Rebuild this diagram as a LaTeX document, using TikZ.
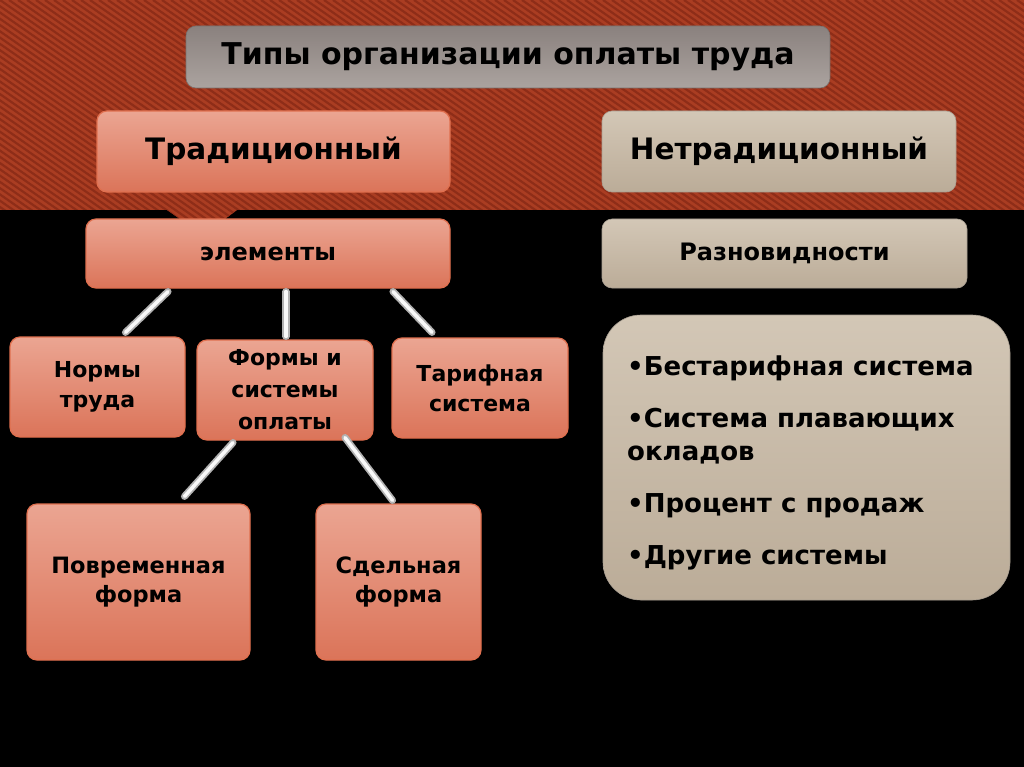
\documentclass[tikz,border=0pt]{standalone}
\usepackage{fontspec}
\setmainfont{DejaVu Sans}
\usetikzlibrary{calc}
\definecolor{band}{HTML}{AA3D22}
\definecolor{bandstripe}{HTML}{8E2D18}
\definecolor{salTop}{HTML}{EBA592}
\definecolor{salBot}{HTML}{DB7459}
\definecolor{salEdge}{HTML}{E0704F}
\definecolor{begTop}{HTML}{D3C7B6}
\definecolor{begBot}{HTML}{BBAC98}
\definecolor{grayTop}{HTML}{8A817E}
\definecolor{grayBot}{HTML}{ABA39F}
\tikzset{
  x=1pt, y=-1pt,
  box/.style={rounded corners=10pt, inner sep=0pt, align=center, font=\bfseries},
  salbox/.style={box, top color=salTop, bottom color=salBot, draw=salEdge, line width=1.2pt},
  begbox/.style={box, top color=begTop, bottom color=begBot, draw=begTop!80!black, line width=0.6pt},
  tube/.style={draw=gray!60, double=white!95!gray, double distance=3.5pt, line width=1.8pt, line cap=round},
}
\begin{document}
\begin{tikzpicture}
\useasboundingbox (0,0) rectangle (1024,767);
\fill[black] (0,0) rectangle (1024,767);
% striped band
\begin{scope}
\clip (0,0) -- (1024,0) -- (1024,210) -- (237,210) -- (225,219) -- (180,219) -- (167,210) -- (0,210) -- cycle;
\fill[band] (0,0) rectangle (1024,220);
\foreach \i in {-40,...,118} {
  \draw[bandstripe, line width=2.2pt] (\i*9,0) -- ++(330,230);
}
\end{scope}
% title
\node[box, top color=grayTop, bottom color=grayBot, draw=grayBot!70!black, line width=0.6pt,
  minimum width=644pt, minimum height=62pt, font=\bfseries\fontsize{30}{36}\selectfont]
  (title) at (508,57) {Типы организации оплаты труда};
% level 1
\node[salbox, minimum width=353pt, minimum height=81pt, font=\bfseries\fontsize{29.5}{35}\selectfont]
  (trad) at (273.5,151.5) {\raisebox{-2pt}{Традиционный}};
\node[begbox, minimum width=354pt, minimum height=81pt, font=\bfseries\fontsize{29.5}{35}\selectfont]
  (netrad) at (779,151.5) {\raisebox{-2pt}{Нетрадиционный}};
% level 2
\node[salbox, minimum width=364pt, minimum height=69pt, font=\bfseries\fontsize{24}{28}\selectfont]
  (elem) at (268,253.5) {элементы};
\node[begbox, minimum width=365pt, minimum height=69pt, font=\bfseries\fontsize{24}{28}\selectfont]
  (razn) at (784.5,253.5) {Разновидности};
% level 3
\node[salbox, minimum width=175pt, minimum height=100pt, font=\bfseries\fontsize{22}{30}\selectfont]
  (norm) at (97.5,387) {Нормы\\труда};
\node[salbox, minimum width=176pt, minimum height=100pt, font=\bfseries\fontsize{22}{32}\selectfont]
  (form) at (285,390) {Формы и\\системы\\оплаты};
\node[salbox, minimum width=176pt, minimum height=100pt, font=\bfseries\fontsize{22}{30}\selectfont]
  (tarif) at (480,388) {Тарифная\\система};
% level 4
\node[salbox, minimum width=223pt, minimum height=156pt, font=\bfseries\fontsize{22.5}{31}\selectfont]
  (povr) at (138.5,582) {\raisebox{-4pt}{\begin{tabular}{c}Повременная\\[-2pt]форма\end{tabular}}};
\node[salbox, minimum width=165pt, minimum height=156pt, font=\bfseries\fontsize{22.5}{31}\selectfont]
  (sdel) at (398.5,582) {\raisebox{-4pt}{\begin{tabular}{c}Сдельная\\[-2pt]форма\end{tabular}}};
% right list
\node[box, rounded corners=38pt, top color=begTop, bottom color=begBot, draw=begTop!80!black, line width=0.6pt,
  minimum width=407pt, minimum height=285pt] (list) at (806.5,457.5) {};
\node[anchor=north west, align=left, inner sep=0pt, font=\bfseries\fontsize{26}{33}\selectfont]
  (listtext) at (627,356) {•Бестарифная система\\[19pt]•Система плавающих\\окладов\\[19pt]•Процент с продаж\\[19pt]•Другие системы};
% connectors
\draw[tube] ([xshift=-100pt,yshift=-3pt]elem.south) -- ([xshift=28pt,yshift=4pt]norm.north);
\draw[tube] ([xshift=18pt,yshift=-3pt]elem.south) -- ([xshift=1pt,yshift=3pt]form.north);
\draw[tube] ([xshift=125pt,yshift=-3pt]elem.south) -- ([xshift=-48pt,yshift=5pt]tarif.north);
\draw[tube] ([xshift=-52pt,yshift=-2pt]form.south) -- ([xshift=46pt,yshift=7pt]povr.north);
\draw[tube] ([xshift=60pt,yshift=3pt]form.south) -- ([xshift=-6pt,yshift=3pt]sdel.north);
\end{tikzpicture}
\end{document}
